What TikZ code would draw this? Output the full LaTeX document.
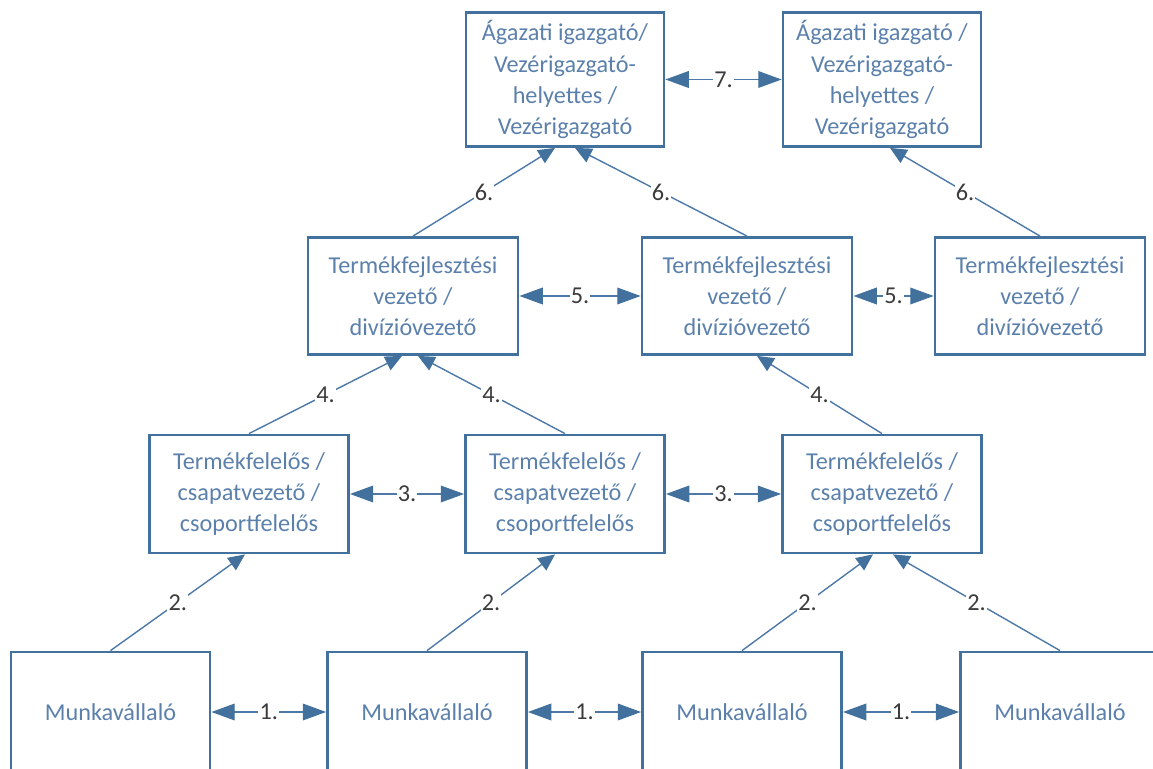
\documentclass[tikz,border=0pt]{standalone}
\usepackage{fontspec}
\setmainfont{Carlito}
\usepackage{tikz}
\usetikzlibrary{arrows.meta,positioning}
\definecolor{boxblue}{HTML}{41719C}
\definecolor{textblue}{HTML}{5B80AC}
\definecolor{lineblue}{HTML}{4D79A8}
\definecolor{tagdark}{HTML}{3B3B3B}

\begin{document}
\begin{tikzpicture}[x=0.03cm, y=-0.03cm,
        box/.style={draw=boxblue, line width=2.4pt, text=textblue, align=center, inner sep=0pt,
            font={\fontsize{20.7}{26.5}\selectfont}},
        topbox/.style={box, minimum width=5.94cm, minimum height=4.02cm},
        midbox/.style={box, minimum width=6.3cm, minimum height=3.51cm},
        teambox/.style={box, minimum width=5.97cm, minimum height=3.54cm},
        workbox/.style={box, minimum width=5.97cm, minimum height=3.6cm},
        link/.style={draw=lineblue, line width=1.2pt},
        up/.style={link, -{Triangle[length=0.5cm, width=0.45cm, color=boxblue]}},
        both/.style={link, {Triangle[length=0.7cm, width=0.5cm, color=boxblue]}-{Triangle[length=0.7cm, width=0.5cm, color=boxblue]}},
        tag/.style={fill=white, text=tagdark, inner sep=1pt, font={\fontsize{20.7}{24}\selectfont}}]
        \useasboundingbox (0,0) rectangle (1153,769);
        \clip (0,0) rectangle (1153,769);

        % Level 1
        \node[topbox] (A) at (565,79.5) {Ágazati igazgató/\\Vezérigazgató-\\helyettes /\\Vezérigazgató};
        \node[topbox] (B) at (882,79.5) {Ágazati igazgató /\\Vezérigazgató-\\helyettes /\\Vezérigazgató};
        \draw[both] (A) -- node[tag]{7.} (B);

        % Level 2
        \foreach \n/\x in {C/413, D/747, E/1040}
            \node[midbox] (\n) at (\x,296) {Termékfejlesztési\\vezető /\\divízióvezető};
        \foreach \a/\b in {C/D, D/E}
            \draw[both] (\a) -- node[tag]{5.} (\b);
        \draw[up] (C.north) -- node[tag]{6.} ([xshift=-0.3cm]A.south);
        \draw[up] (D.north) -- node[tag]{6.} ([xshift=0.3cm]A.south);
        \draw[up] (E.north) -- node[tag]{6.} ([xshift=0.24cm]B.south);

        % Level 3
        \foreach \n/\x in {F/249, G/565, H/882}
            \node[teambox] (\n) at (\x,494) {Termékfelelős /\\csapatvezető /\\csoportfelelős};
        \foreach \a/\b in {F/G, G/H}
            \draw[both] (\a) -- node[tag]{3.} (\b);
        \draw[up] (F.north) -- node[tag]{4.} ([xshift=-0.33cm]C.south);
        \draw[up] (G.north) -- node[tag]{4.} ([xshift=0.15cm]C.south);
        \draw[up] (H.north) -- node[tag]{4.} ([xshift=0.3cm]D.south);

        % Level 4
        \foreach \n/\x in {I/110.5, J/427, K/742, L/1060}
            \node[workbox] (\n) at (\x,712) {Munkavállaló};
        \foreach \a/\b in {I/J, J/K, K/L}
            \draw[both] (\a) -- node[tag]{1.} (\b);
        \draw[up] (I.north) -- node[tag]{2.} ([xshift=-0.12cm]F.south);
        \draw[up] (J.north) -- node[tag]{2.} ([xshift=-0.3cm]G.south);
        \draw[up] (K.north) -- node[tag]{2.} ([xshift=-0.27cm]H.south);
        \draw[up] (L.north) -- node[tag]{2.} ([xshift=0.33cm]H.south);
    \end{tikzpicture}
\end{document}
